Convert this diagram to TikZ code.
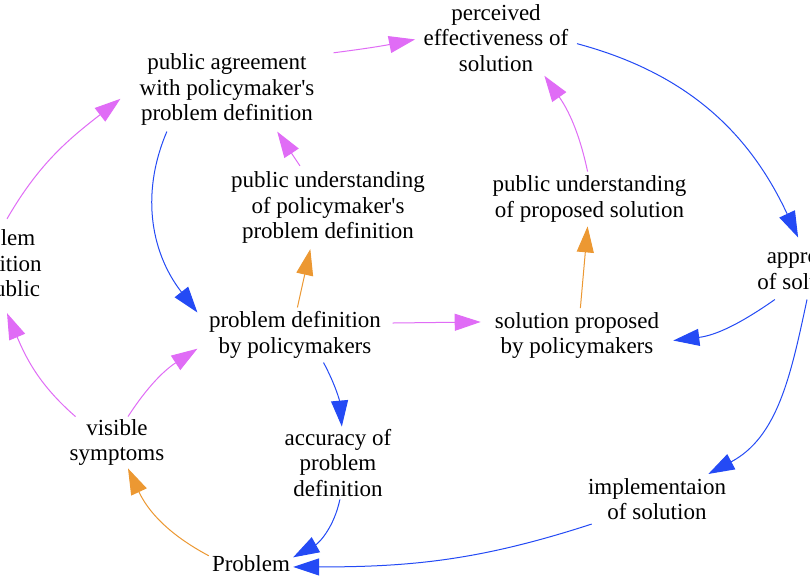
\documentclass[tikz,border=0pt]{standalone}
\usepackage{fontspec}
\setmainfont{Liberation Serif}[Ligatures=TeXOff]
\usetikzlibrary{arrows.meta}
\definecolor{mag}{RGB}{224,108,246}
\definecolor{blu}{RGB}{36,74,245}
\definecolor{org}{RGB}{236,152,50}
\tikzset{
  lbl/.style={align=center, font=\fontsize{23}{25.5}\selectfont, inner xsep=8pt, inner ysep=4pt},
  link/.style={line width=1pt, -{Triangle[length=26pt,width=17pt]}},
  mg/.style={link, draw=mag},
  bl/.style={link, draw=blu},
  og/.style={link, draw=org}
}
\begin{document}
\begin{tikzpicture}[x=1pt,y=1pt]
\useasboundingbox (0,0) rectangle (810,580);
\clip (0,0) rectangle (810,580);
\fill[white] (0,0) rectangle (810,580);

\node[lbl, inner xsep=8.5pt] (pe) at (496,542) {perceived\\effectiveness of\\solution};
\node[lbl, inner xsep=19pt, inner ysep=6pt] (ag) at (227,490.5) {public agreement\\with policymaker's\\problem definition};
\node[lbl, inner ysep=5.5pt] (upm) at (328,372.5) {public understanding\\of policymaker's\\problem definition};
\node[lbl] (ups) at (589.5,381) {public understanding\\of proposed solution};
\node[lbl, inner xsep=11.5pt] (pdp) at (295,245) {problem definition\\by policymakers};
\node[lbl, inner xsep=14pt] (sp) at (577,244.5) {solution proposed\\by policymakers};
\node[lbl, inner ysep=10pt] (ap) at (807,311.5) {approval\\of solution};
\node[lbl, inner ysep=11pt] (pdpub) at (-3,314) {problem\\definition\\by public};
\node[lbl, inner ysep=2.5pt] (vs) at (117,137.5) {visible\\symptoms};
\node[lbl, inner ysep=2.5pt] (acc) at (338,117) {accuracy of\\problem\\definition};
\node[lbl, inner xsep=3pt, inner ysep=3pt] (pr) at (251,16) {Problem};
\node[lbl] (impl) at (657,81) {implementaion\\of solution};

\draw[mg] (ag.19) to[bend right=2] (pe.181.4);
\draw[bl] (pe.-4.2) to[out=-15,in=115] (ap.106.4);
\draw[bl] (ap.224.5) to[out=215,in=7] (sp.-3.2);
\draw[bl] (ap.270) to[out=258,in=28] (impl.26.1);
\draw[bl] (impl.201.9) to[out=198,in=0] (pr.-4.1);
\draw[bl] (acc.273) to[out=258,in=29] (pr.9.5);
\draw[og] (pr.169) to[out=152,in=-65] (vs.293.3);
\draw[mg] (vs.67.5) to[out=57,in=213] (pdp.188.7);
\draw[mg] (vs.148.9) to[out=139,in=-67] (pdpub.282.9);
\draw[mg] (pdpub.78.9) to[out=60,in=218] (ag.185.1);
\draw[bl] (ag.215.8) to[out=-113,in=128] (pdp.167.9);
\draw[og] (pdp.85.8) -- (upm.247.7);
\draw[mg] (upm.124) -- (ag.320.3);
\draw[mg] (pdp.7.5) -- (sp.172.2);
\draw[og] (sp.83.8) -- (ups.266.7);
\draw[mg] (ups.94.8) to[out=102,in=-55] (pe.-38.1);
\draw[bl] (pdp.316) to[out=-62,in=95] (acc.84.1);
\end{tikzpicture}
\end{document}
